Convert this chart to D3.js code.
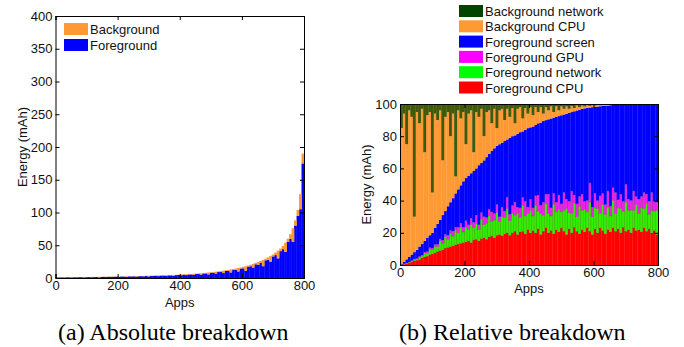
<!DOCTYPE html>
<html>
<head>
<meta charset="utf-8">
<script src="https://cdn.jsdelivr.net/npm/d3@7"></script>
<style>
  body { margin: 0; background: #fff; }
  svg text { font-family: "Liberation Sans", Arial, sans-serif; }
  .caption { font-family: "Liberation Serif", "Times New Roman", serif; }
</style>
</head>
<body>
<svg id="fig" width="684" height="347"></svg>
<script>
// Apps are grouped 8 per bar (100 bars covering apps 0..800)
const binSize = 8;

// (a) absolute energy per app group, mAh
const fgAbs = [0.7,0.8,0.9,0.7,1.0,0.9,0.8,1.1,1.0,1.2,
  1.2,0.9,1.3,1.4,1.2,1.4,1.5,1.0,1.6,1.7,
  1.5,1.8,1.6,1.9,2.0,1.7,2.2,2.1,1.6,2.4,
  2.3,2.5,2.0,2.7,2.8,2.6,3.0,2.4,3.2,3.1,
  3.4,2.9,3.6,3.7,3.0,4.0,4.0,3.5,4.4,4.6,
  4.2,5.0,4.4,5.3,5.5,4.6,6.0,6.2,5.1,6.9,
  7.0,5.5,8.0,8.1,6.8,9.2,9.3,7.5,10.7,11.0,
  8.5,12.5,12.6,10.0,14.5,14.8,11.0,17.3,18.0,16.0,
  21.0,20.0,23.5,18.0,27.0,28.0,25.0,33.0,35.0,30.0,
  41.0,44.0,40.0,55.0,60.0,55.0,80.0,95.0,105.0,175.0];
const bgAbs = [0.1,0.1,0.1,0.3,0.1,0.2,0.4,0.1,0.3,0.1,
  0.2,0.5,0.2,0.1,0.4,0.2,0.2,0.7,0.2,0.2,
  0.4,0.2,0.5,0.2,0.2,0.6,0.2,0.3,0.9,0.2,
  0.4,0.3,0.9,0.3,0.3,0.6,0.3,1.0,0.3,0.5,
  0.3,0.9,0.4,0.4,1.2,0.4,0.5,1.2,0.5,0.5,
  1.1,0.5,1.3,0.6,0.6,1.8,0.7,0.8,2.2,0.7,
  1.0,2.9,0.8,1.1,2.8,0.9,1.3,3.7,1.1,1.4,
  4.6,1.3,1.9,5.3,1.6,2.2,7.0,1.8,2.3,5.6,
  2.0,4.5,2.5,9.7,2.5,3.5,8.7,3.1,3.8,11.8,
  4.0,5.0,14.0,5.0,7.0,21.0,8.0,9.0,23.0,15.0];

// (b) share of energy per app group, %
const fgCPU = [0.2,0.5,0.8,1.2,2,2.5,3,3.5,4.5,5,
  5.5,6.5,7,7.5,8.5,9,9.5,10.5,11,11.5,
  12,12.5,13,13.5,14,14.5,15,14,15.5,16,
  15,16.5,17,16,17.5,18,17,18.5,19,18,
  19.5,20,18.5,20,21,19,20.5,21,19.5,22,
  20,21.5,20,22.5,19,21,23,20,21.5,19.5,
  22,20.5,23,21,19,22.5,20,23.5,21,19.5,
  22,20.5,23,21,19,22.5,20,23,21.5,19.5,
  22,20.5,23,21,22.5,20,23.5,21,22,20,
  23,21.5,22,20.5,23,21,22.5,20,21.5,19];
const fgNet = [0.1,0.2,0.4,0.5,0.6,1.0,0.8,1.5,1.2,2.5,
  2,3.5,2.5,4,3,6,4,7,5,8,
  6,9,7,10,6.5,9,7,11,8,10,
  7,12,8,10,13,9,11,14,8,12,
  10,15,9,12,10,13,9,16,11,10,
  14,9,17,11,13,10,15,12,9,18,
  11,14,10,13,16,10,12,15,9,17,
  12,14,10,18,11,13,15,9,16,12,
  14,10,17,11,13,15,10,18,12,14,
  11,16,10,15,12,17,9,14,12,15];
const fgGPU = [0,0.1,0.1,0.2,0.2,0.3,0.3,0.4,0.5,0.6,
  0.8,0.8,1,1.2,1.5,1.2,2,1.5,2.5,2,
  3,2,3.5,2.5,3,4,3,4,3,5,
  3,4,5,3.5,4,6,4,5,3,6,
  4,7,4,5,8,4,6,5,9,4,
  7,5,6,10,5,8,6,12,5,7,
  6,9,5,11,6,7,14,5,8,6,
  10,5,7,12,6,9,5,11,7,6,
  10,6,8,13,5,9,6,11,7,6,
  12,5,9,7,10,6,8,11,6,5];
const fgScreen = [0.4,1.2,2.2,3.1,3.7,4.2,5.4,6.1,6.8,6.9,
  8.7,7.7,9.5,10.3,12.5,11.8,15.5,14.5,18,17.5,
  20.5,21,23.5,23.5,28.5,26.5,30.5,28,32,29,
  37,31,35,37.5,34.5,38,40.5,36.5,45,40,
  43.5,36,47.5,43,41.5,45.5,47,41,44.5,49,
  44.5,50.5,44,44.5,51.5,50.5,46,46.5,55.5,47,
  53,49,55,48.5,53,55,49,52,58,54,
  53,57.8,57.6,46.8,62,53.7,58.4,55.6,54.3,61.5,
  53,62.7,51.4,54.5,59.1,55.7,60.3,49.8,58.9,59.9,
  53.9,57.4,58.9,57.4,54.9,55.9,60.4,54.9,60.4,60.9];
const bgCPU = [84.3,92,71.5,91,85.5,22,85.5,76.5,84,55,
  76,76.5,25,71,64.5,68,34,58.5,58.5,41,
  52.5,10.5,49,41.5,43,21,38.5,39,11.5,35,
  30,33.5,15,28,27,17,24.5,11,21,21,
  13,19,13,17.5,7.5,15.5,15.5,8,13.5,9,
  12.5,7,11,7,9.5,4.5,8,5.5,7.5,3.5,
  6.5,3.5,5.5,3.5,4.5,2.5,3.8,2,3,1.5,
  2,1.2,1.6,1,1.2,0.8,1,0.6,0.7,0.4,
  0.6,0.3,0.3,0.2,0.2,0.1,0.1,0.1,0.05,0.05,
  0.05,0.05,0.05,0.05,0.05,0.05,0.05,0.05,0.05,0.05];
const bgNet = [15,6,25,4,8,70,5,12,3,30,
  7,5,55,6,10,4,35,8,5,20,
  6,45,4,9,5,25,6,4,30,5,
  8,3,20,5,4,12,3,15,4,3,
  10,3,8,2.5,12,3,2,9,2.5,6,
  2,7,2,5,2,6,2,4,1.5,5,
  1.5,4,1.5,3,1.5,3,1.2,2.5,1,2,
  1,1.5,0.8,1.2,0.8,1,0.6,0.8,0.5,0.6,
  0.4,0.5,0.3,0.3,0.2,0.2,0.1,0.1,0.05,0.05,
  0.05,0.05,0.05,0.05,0.05,0.05,0.05,0.05,0.05,0.05];

const xTicks = [0, 200, 400, 600, 800];
const absTicks = [0, 50, 100, 150, 200, 250, 300, 350, 400];
const relTicks = [0, 20, 40, 60, 80, 100];

const svg = d3.select("#fig");
svg.append("rect").attr("width", 684).attr("height", 347).attr("fill", "#fff");

// draws the MATLAB style box: ticks pointing inward on all four sides
function drawFrame(g, x, y, yTicks, w, h) {
    g.append("g").attr("transform", `translate(0,${h})`)
        .call(d3.axisBottom(x).tickValues(xTicks).tickSize(-4).tickPadding(3));
    g.append("g")
        .call(d3.axisTop(x).tickValues(xTicks).tickSize(-4).tickFormat(""));
    g.append("g")
        .call(d3.axisLeft(y).tickValues(yTicks).tickSize(-4).tickPadding(3));
    g.append("g").attr("transform", `translate(${w},0)`)
        .call(d3.axisRight(y).tickValues(yTicks).tickSize(-4).tickFormat(""));
    g.selectAll(".domain").attr("stroke", "#000");
    g.selectAll(".tick line").attr("stroke", "#000");
    g.selectAll(".tick text").attr("font-size", 13).attr("fill", "#111")
        .attr("font-family", "'Liberation Sans', Arial, sans-serif");
}

// edges: thin dark bar outlines (MATLAB bar edges) that tint the noisy layers
function drawBars(g, x, y, series, colors, edges) {
    g.selectAll("g.layer")
        .data(series)
        .join("g")
        .attr("class", "layer")
        .attr("fill", (d, i) => colors[i])
        .attr("stroke", (d, i) => edges[i] ? "rgba(70,60,0,0.35)" : "none")
        .attr("stroke-width", 0.5)
        .selectAll("rect")
        .data(d => d)
        .join("rect")
        .attr("x", (d, i) => x(i * binSize))
        .attr("width", (d, i) => x((i + 1) * binSize) - x(i * binSize) + 0.3)
        .attr("y", d => y(d[1]))
        .attr("height", d => Math.max(0, y(d[0]) - y(d[1])));
}

// ---- (a) Absolute breakdown ----
{
    const left = 55.5, top = 16, w = 248.5, h = 262;
    const g = svg.append("g").attr("transform", `translate(${left},${top})`);
    const x = d3.scaleLinear().domain([0, 800]).range([0, w]);
    const y = d3.scaleLinear().domain([0, 400]).range([h, 0]);

    const rows = fgAbs.map((v, i) => ({ fg: v, bg: bgAbs[i] }));
    const series = d3.stack().keys(["fg", "bg"])(rows);
    drawBars(g, x, y, series, ["#0000ff", "#ff9933"], [false, false]);
    drawFrame(g, x, y, absTicks, w, h);

    // legend inside the box
    const leg = [["Background", "#ff9933"], ["Foreground", "#0000ff"]];
    leg.forEach((d, i) => {
        svg.append("rect").attr("x", 64).attr("y", 23 + i * 16)
            .attr("width", 24).attr("height", 12).attr("fill", d[1]);
        svg.append("text").attr("x", 90).attr("y", 34 + i * 16)
            .attr("font-size", 13).attr("fill", "#111").text(d[0]);
    });

    svg.append("text").attr("x", left + w / 2).attr("y", 307)
        .attr("text-anchor", "middle").attr("font-size", 13).attr("fill", "#111").text("Apps");
    svg.append("text").attr("transform", `translate(27,${top + h / 2}) rotate(-90)`)
        .attr("text-anchor", "middle").attr("font-size", 13).attr("fill", "#111").text("Energy (mAh)");
    svg.append("text").attr("class", "caption").attr("x", 58).attr("y", 340)
        .attr("font-size", 24).attr("fill", "#000").text("(a) Absolute breakdown");
}

// ---- (b) Relative breakdown ----
{
    const left = 400, top = 104, w = 258, h = 161;
    const g = svg.append("g").attr("transform", `translate(${left},${top})`);
    const x = d3.scaleLinear().domain([0, 800]).range([0, w]);
    const y = d3.scaleLinear().domain([0, 1]).range([h, 0]);
    const yAxis = d3.scaleLinear().domain([0, 100]).range([h, 0]);

    const keys = ["fgCPU", "fgNet", "fgGPU", "fgScreen", "bgCPU", "bgNet"];
    const cols = ["#ff0000", "#00ff00", "#ff00ff", "#0000ff", "#ff9933", "#004400"];
    // thin dark-green bars blend with the orange ones, so they read olive in the plot
    const barCols = ["#ff0000", "#33ee00", "#ee22ee", "#0000ff", "#ff9933", "#3f5a0c"];
    const rows = fgCPU.map((v, i) => ({
        fgCPU: v, fgNet: fgNet[i], fgGPU: fgGPU[i], fgScreen: fgScreen[i],
        bgCPU: bgCPU[i], bgNet: bgNet[i]
    }));
    const series = d3.stack().keys(keys).offset(d3.stackOffsetExpand)(rows);
    drawBars(g, x, y, series, barCols, [false, true, true, false, false, false]);
    drawFrame(g, x, yAxis, relTicks, w, h);

    const names = ["Background network", "Background CPU", "Foreground screen",
        "Foreground GPU", "Foreground network", "Foreground CPU"];
    names.forEach((n, i) => {
        svg.append("rect").attr("x", 459).attr("y", 5 + i * 15.3)
            .attr("width", 24).attr("height", 12).attr("fill", cols[5 - i]);
        svg.append("text").attr("x", 485).attr("y", 16 + i * 15.3)
            .attr("font-size", 13).attr("fill", "#111").text(n);
    });

    svg.append("text").attr("x", left + w / 2).attr("y", 293)
        .attr("text-anchor", "middle").attr("font-size", 13).attr("fill", "#111").text("Apps");
    svg.append("text").attr("transform", `translate(371,${top + h / 2}) rotate(-90)`)
        .attr("text-anchor", "middle").attr("font-size", 13).attr("fill", "#111").text("Energy (mAh)");
    svg.append("text").attr("class", "caption").attr("x", 399).attr("y", 340)
        .attr("font-size", 24).attr("fill", "#000").text("(b) Relative breakdown");
}
</script>
</body>
</html>
